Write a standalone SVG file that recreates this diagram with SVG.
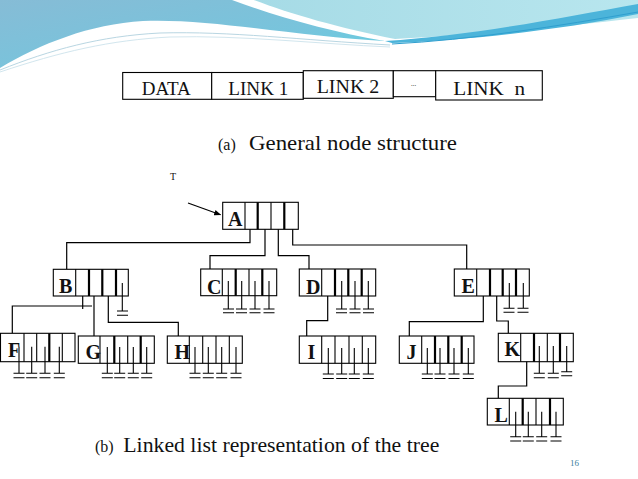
<svg xmlns="http://www.w3.org/2000/svg" width="638" height="479" viewBox="0 0 638 479">
<defs>
<linearGradient id="bg1" x1="0" y1="0" x2="1" y2="1">
<stop offset="0" stop-color="#86bcd6"/><stop offset="0.6" stop-color="#78c4dc"/><stop offset="1" stop-color="#5fd0e2"/>
</linearGradient>
<linearGradient id="bg2" x1="0" y1="0" x2="1" y2="0">
<stop offset="0" stop-color="#a6dbe6"/><stop offset="1" stop-color="#b8e6ee"/>
</linearGradient>
<marker id="arr" viewBox="0 0 10 10" refX="9" refY="5" markerWidth="7" markerHeight="7" orient="auto" markerUnits="userSpaceOnUse">
<path d="M0,1 L10,5 L0,9 Z" fill="#000"/>
</marker>
<style>
.box{fill:#fff;stroke:#000;stroke-width:1.1}
.dv{stroke:#000;stroke-width:1.1}
.tk{stroke-width:2.2}
.ptr{fill:none;stroke:#000;stroke-width:1.2}
.nil{fill:none;stroke:#000;stroke-width:1.1}
.lbl{font-family:"Liberation Serif",serif;font-weight:bold;font-size:20px;fill:#111}
.hd{font-family:"Liberation Serif",serif;font-size:19px;fill:#111}
.cap{font-family:"Liberation Serif",serif;font-size:21px;fill:#111}
.sm{font-family:"Liberation Serif",serif;font-size:16px;fill:#111}
</style>
</defs>
<rect width="638" height="479" fill="#fff"/>
<g id="background">
<path d="M0,0 H232 C275,16 330,32 385,41 C300,37 210,18 143,21 C90,24 40,44 0,68 Z" fill="url(#bg1)"/>
<path d="M254,0 H638 V18 C570,26 460,36 395,39 C340,28 290,14 254,0 Z" fill="url(#bg2)"/>
<path d="M385,41 C470,36 560,18 638,4 V14 C560,30 470,40 392,43 Z" fill="#4cb4da"/>
<path d="M392,44 C470,40 560,26 638,12" fill="none" stroke="#2f9fcf" stroke-width="1"/>
<path d="M0,70 C50,50 100,36 160,33 C230,31 300,40 390,45" fill="none" stroke="#b9d6e2" stroke-width="1"/>
<path d="M0,72 C60,52 110,40 170,37 C240,35 320,44 390,47" fill="none" stroke="#d2e6ee" stroke-width="1"/>
</g>
<g id="node-structure">
<rect class="box" x="122.7" y="72.5" width="89" height="26.8"/>
<rect class="box" x="211.7" y="72.5" width="91.6" height="26.8"/>
<rect class="box" x="303.3" y="70.7" width="90" height="27.6"/>
<rect class="box" x="393.3" y="70.7" width="42.4" height="26"/>
<rect class="box" x="435.7" y="70.7" width="106.6" height="29.3"/>
<text class="hd" x="141.7" y="94.5">DATA</text>
<text class="hd" x="228.3" y="94.5" textLength="60" lengthAdjust="spacingAndGlyphs">LINK 1</text>
<text class="hd" x="316.7" y="93.3" textLength="62.6" lengthAdjust="spacingAndGlyphs">LINK 2</text>
<text class="hd" x="411" y="86" style="font-size:7px">...</text>
<text class="hd" x="453.3" y="94.5" xml:space="preserve" textLength="71.7" lengthAdjust="spacingAndGlyphs">LINK  n</text>
</g>
<text id="caption-a" x="218" y="150" class="cap"><tspan class="sm">(a)</tspan><tspan x="249" textLength="208" lengthAdjust="spacingAndGlyphs">General node structure</tspan></text>
<text id="label-T" x="170" y="180" style="font-family:'Liberation Serif',serif;font-size:10px;fill:#111">T</text>
<g id="connectors">
<path class="ptr" d="M188,203 L220.5,214.8" marker-end="url(#arr)"/>
<path class="ptr" d="M250,216.7 V242.7 H66.7 V269.3"/>
<path class="ptr" d="M265,217 V255.7 H210 V269"/>
<path class="ptr" d="M278.3,217 V255.7 H309 V269"/>
<path class="ptr" d="M292.7,217 V245 H466.7 V269"/>
<path class="ptr" d="M82.7,283 V309"/>
<path class="ptr" d="M92,306 H12.3 V333.3"/>
<path class="ptr" d="M94,283 V336"/>
<path class="ptr" d="M108.3,283 V322.3 H178.3 V336"/>
<path class="ptr" d="M327.7,281 V320.7 H306.7 V336"/>
<path class="ptr" d="M483.3,283 V321.7 H409.3 V336"/>
<path class="ptr" d="M496.7,283 V321 H508.3 V333.3"/>
<path class="ptr" d="M526.7,346 V386 H498.3 V398.3"/>
</g>
<g id="node-A">
<rect class="box" x="222.7" y="202.3" width="75.6" height="27"/>
<path class="dv" d="M245,202.3 V229.3 M271,202.3 V229.3"/>
<path class="dv tk" d="M257.7,202.3 V229.3 M284.3,202.3 V229.3"/>
<text class="lbl" x="228" y="226">A</text>
</g>
<g id="node-B">
<rect class="box" x="53.3" y="269.3" width="75" height="26.7"/>
<path class="dv" d="M75.7,269.3 V296"/>
<path class="dv tk" d="M89,269.3 V296 M102.3,269.3 V296 M116,269.3 V296"/>
<path class="nil" d="M122.3,283 V311 M117,311 H128 M117,315.3 H128"/>
<text class="lbl" x="59" y="292.7">B</text>
</g>
<g id="node-C">
<rect class="box" x="200.7" y="269" width="76" height="26.7"/>
<path class="dv" d="M222.3,269 V295.7 M249,269 V295.7"/>
<path class="dv tk" d="M235.7,269 V295.7 M262.3,269 V295.7"/>
<path class="nil" d="M228.3,281 V309 M241.7,281 V309 M255,281 V309 M269,281 V309 M223,309 H234 M236,309 H247 M249.5,309 H260.5 M263.5,309 H274.5 M223,312.8 H234 M236,312.8 H247 M249.5,312.8 H260.5 M263.5,312.8 H274.5"/>
<text class="lbl" x="207" y="294">C</text>
</g>
<g id="node-D">
<rect class="box" x="299.3" y="269" width="76.4" height="27"/>
<path class="dv" d="M321.7,269 V296"/>
<path class="dv tk" d="M335,269 V296 M348.3,269 V296 M361.7,269 V296"/>
<path class="nil" d="M341.7,281 V309 M355,281 V309 M368.3,281 V309 M336,309 H347 M349.5,309 H360.5 M363,309 H374 M336,312.8 H347 M349.5,312.8 H360.5 M363,312.8 H374"/>
<text class="lbl" x="306" y="294">D</text>
</g>
<g id="node-E">
<rect class="box" x="454.3" y="269" width="75" height="27"/>
<path class="dv" d="M476.7,269 V296"/>
<path class="dv tk" d="M490,269 V296 M502.7,269 V296 M516,269 V296"/>
<path class="nil" d="M509.3,283 V308.3 M523.3,283 V308.3 M503.5,308.3 H514.5 M517.5,308.3 H528.5 M503.5,312.3 H514.5 M517.5,312.3 H528.5"/>
<text class="lbl" x="461.5" y="292.7">E</text>
</g>
<g id="node-F">
<rect class="box" x="0.5" y="333.3" width="74.5" height="28.4"/>
<path class="dv" d="M24,333.3 V361.7 M36.7,333.3 V361.7 M62.3,333.3 V361.7"/>
<path class="dv tk" d="M49.3,333.3 V361.7"/>
<path class="nil" d="M19,346.7 V373.3 M31.7,346.7 V373.3 M45,346.7 V373.3 M59.3,346.7 V373.3 M13.5,373.3 H24.5 M26.2,373.3 H37.2 M39.5,373.3 H50.5 M53.8,373.3 H64.8 M13.5,377.8 H24.5 M26.2,377.8 H37.2 M39.5,377.8 H50.5 M53.8,377.8 H64.8"/>
<text class="lbl" x="8" y="356.7">F</text>
</g>
<g id="node-G">
<rect class="box" x="78.3" y="336" width="76" height="27.3"/>
<path class="dv" d="M100,336 V363.3 M127.7,336 V363.3"/>
<path class="dv tk" d="M114.3,336 V363.3 M140.7,336 V363.3"/>
<path class="nil" d="M107.3,347 V373.3 M119.7,347 V373.3 M133.3,347 V373.3 M146.7,347 V373.3 M101.8,373.3 H112.8 M114.2,373.3 H125.2 M127.8,373.3 H138.8 M141.2,373.3 H152.2 M101.8,377.8 H112.8 M114.2,377.8 H125.2 M127.8,377.8 H138.8 M141.2,377.8 H152.2"/>
<text class="lbl" x="85.5" y="359.3">G</text>
</g>
<g id="node-H">
<rect class="box" x="167.3" y="336" width="75" height="27.3"/>
<path class="dv" d="M189.3,336 V363.3 M202.7,336 V363.3 M216,336 V363.3 M229.3,336 V363.3"/>
<path class="nil" d="M195,347 V373.3 M208.3,347 V373.3 M221.7,347 V373.3 M236,347 V373.3 M189.5,373.3 H200.5 M202.8,373.3 H213.8 M216.2,373.3 H227.2 M230.5,373.3 H241.5 M189.5,377.8 H200.5 M202.8,377.8 H213.8 M216.2,377.8 H227.2 M230.5,377.8 H241.5"/>
<text class="lbl" x="174.5" y="359.3">H</text>
</g>
<g id="node-I">
<rect class="box" x="299.3" y="336" width="76.4" height="27.3"/>
<path class="dv" d="M321.7,336 V363.3 M335,336 V363.3 M349,336 V363.3 M362.3,336 V363.3"/>
<path class="nil" d="M328.3,348 V374 M341.7,348 V374 M354.3,348 V374 M368.3,348 V374 M322.8,374 H333.8 M336.2,374 H347.2 M348.8,374 H359.8 M362.8,374 H373.8 M322.8,378.5 H333.8 M336.2,378.5 H347.2 M348.8,378.5 H359.8 M362.8,378.5 H373.8"/>
<text class="lbl" x="307.5" y="359.3">I</text>
</g>
<g id="node-J">
<rect class="box" x="399.3" y="336" width="74.7" height="27.3"/>
<path class="dv" d="M421.7,336 V363.3"/>
<path class="dv tk" d="M435,336 V363.3 M448.3,336 V363.3 M461.7,336 V363.3"/>
<path class="nil" d="M427.3,348 V374 M440,348 V374 M454,348 V374 M468.3,348 V374 M421.8,374 H432.8 M434.5,374 H445.5 M448.5,374 H459.5 M462.8,374 H473.8 M421.8,378.5 H432.8 M434.5,378.5 H445.5 M448.5,378.5 H459.5 M462.8,378.5 H473.8"/>
<text class="lbl" x="406.5" y="359">J</text>
</g>
<g id="node-K">
<rect class="box" x="498.3" y="333.3" width="75" height="28.4"/>
<path class="dv" d="M520.7,333.3 V361.7 M547.3,333.3 V361.7"/>
<path class="dv tk" d="M534,333.3 V361.7 M560,333.3 V361.7"/>
<path class="nil" d="M539.3,346 V373.3 M553.3,346 V373.3 M566.7,346 V371.7 M533.8,373.3 H544.8 M547.8,373.3 H558.8 M533.8,377.8 H544.8 M547.8,377.8 H558.8 M561.2,371.7 H572.2 M561.2,375.8 H572.2"/>
<text class="lbl" x="504.5" y="356">K</text>
</g>
<g id="node-L">
<rect class="box" x="487.3" y="398.3" width="76" height="26.7"/>
<path class="dv" d="M509.3,398.3 V425 M536,398.3 V425"/>
<path class="dv tk" d="M522.7,398.3 V425 M550,398.3 V425"/>
<path class="nil" d="M515.7,411.7 V436.7 M528.3,411.7 V436.7 M541.7,411.7 V436.7 M556,411.7 V436.7 M510.2,436.7 H521.2 M522.8,436.7 H533.8 M536.2,436.7 H547.2 M550.5,436.7 H561.5 M510.2,441 H521.2 M522.8,441 H533.8 M536.2,441 H547.2 M550.5,441 H561.5"/>
<text class="lbl" x="494.5" y="421.7">L</text>
</g>
<text id="caption-b" x="95" y="452" class="cap"><tspan class="sm">(b)</tspan><tspan x="123.3" textLength="316" lengthAdjust="spacingAndGlyphs">Linked list representation of the tree</tspan></text>
<text id="page-num" x="570" y="466" style="font-family:'Liberation Serif',serif;font-size:9px;fill:#3b7f9c">16</text>
</svg>
